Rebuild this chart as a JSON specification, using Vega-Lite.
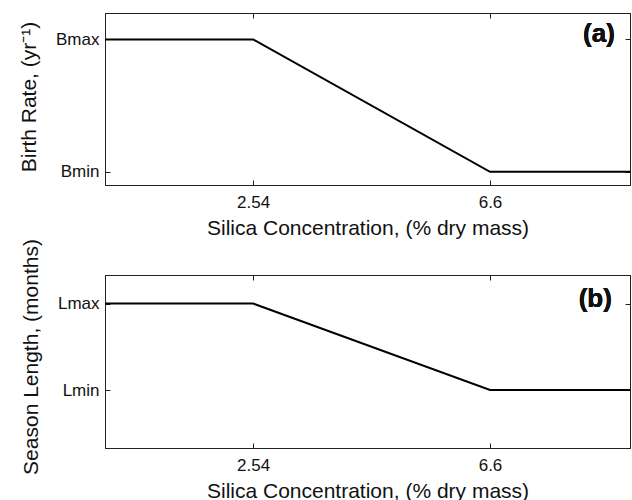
{
  "$schema": "https://vega.github.io/schema/vega-lite/v6.json",
  "padding": {"left": 18, "top": 12, "right": 2, "bottom": 0},
  "background": "white",
  "config": {
    "font": "Liberation Sans",
    "view": {"stroke": "#222222", "strokeWidth": 1},
    "axis": {
      "grid": false,
      "labelFont": "Liberation Sans",
      "titleFont": "Liberation Sans",
      "labelFontSize": 17,
      "titleFontSize": 21,
      "titleFontWeight": "normal",
      "labelColor": "#111111",
      "titleColor": "#111111",
      "tickColor": "#222222",
      "domainColor": "#222222",
      "tickSize": -5,
      "tickWidth": 1
    }
  },
  "datasets": {
    "birth": [
      {"silica": 0, "value": 1},
      {"silica": 2.54, "value": 1},
      {"silica": 6.6, "value": 0},
      {"silica": 9, "value": 0}
    ],
    "season": [
      {"silica": 0, "value": 1},
      {"silica": 2.54, "value": 1},
      {"silica": 6.6, "value": 0},
      {"silica": 9, "value": 0}
    ]
  },
  "vconcat": [
    {
      "width": 525,
      "height": 172,
      "data": {"name": "birth"},
      "layer": [
        {
          "mark": {"type": "line", "color": "black", "strokeWidth": 2},
          "encoding": {
            "x": {"field": "silica", "type": "quantitative",
                  "scale": {"domain": [0, 9], "nice": false, "zero": false},
                  "axis": {"orient": "bottom", "values": [2.54, 6.6], "format": ".3~g", "labelPadding": 14, "titlePadding": 7},
                  "title": "Silica Concentration, (% dry mass)"},
            "y": {"field": "value", "type": "quantitative",
                  "scale": {"domain": [-0.1, 1.2], "nice": false, "zero": false},
                  "axis": {"orient": "left", "values": [0, 1], "labelExpr": "datum.value == 1 ? 'Bmax' : 'Bmin'", "labelPadding": 11, "titlePadding": 16, "titleY": 83.5},
                  "title": "Birth Rate, (yr⁻¹)"}
          }
        },
        {
          "mark": {"type": "line", "opacity": 0},
          "encoding": {
            "x": {"field": "silica", "type": "quantitative",
                  "axis": {"orient": "top", "values": [2.54, 6.6], "labels": false, "title": null}},
            "y": {"field": "value", "type": "quantitative",
                  "axis": {"orient": "right", "values": [0, 1], "labels": false, "title": null}}
          }
        },
        {
          "mark": {"type": "text", "fontSize": 26, "fontWeight": "bold", "align": "right", "baseline": "middle", "color": "#111111", "font": "Liberation Sans"},
          "encoding": {
            "x": {"datum": 8.74, "type": "quantitative", "axis": null},
            "y": {"datum": 1.04, "type": "quantitative", "axis": null},
            "text": {"value": "(a)"}
          }
        }
      ],
      "resolve": {"axis": {"x": "independent", "y": "independent"}}
    },
    {
      "width": 525,
      "height": 173,
      "data": {"name": "season"},
      "layer": [
        {
          "mark": {"type": "line", "color": "black", "strokeWidth": 2},
          "encoding": {
            "x": {"field": "silica", "type": "quantitative",
                  "scale": {"domain": [0, 9], "nice": false, "zero": false},
                  "axis": {"orient": "bottom", "values": [2.54, 6.6], "format": ".3~g", "labelPadding": 14, "titlePadding": 7},
                  "title": "Silica Concentration, (% dry mass)"},
            "y": {"field": "value", "type": "quantitative",
                  "scale": {"domain": [-0.67, 1.33], "nice": false, "zero": false},
                  "axis": {"orient": "left", "values": [0, 1], "labelExpr": "datum.value == 1 ? 'Lmax' : 'Lmin'", "labelPadding": 11, "titlePadding": 16, "titleY": 81.5},
                  "title": "Season Length, (months)"}
          }
        },
        {
          "mark": {"type": "line", "opacity": 0},
          "encoding": {
            "x": {"field": "silica", "type": "quantitative",
                  "axis": {"orient": "top", "values": [2.54, 6.6], "labels": false, "title": null}},
            "y": {"field": "value", "type": "quantitative",
                  "axis": {"orient": "right", "values": [0, 1], "labels": false, "title": null}}
          }
        },
        {
          "mark": {"type": "text", "fontSize": 26, "fontWeight": "bold", "align": "right", "baseline": "middle", "color": "#111111", "font": "Liberation Sans"},
          "encoding": {
            "x": {"datum": 8.69, "type": "quantitative", "axis": null},
            "y": {"datum": 1.05, "type": "quantitative", "axis": null},
            "text": {"value": "(b)"}
          }
        }
      ],
      "resolve": {"axis": {"x": "independent", "y": "independent"}}
    }
  ],
  "spacing": 90,
  "bounds": "flush"
}
